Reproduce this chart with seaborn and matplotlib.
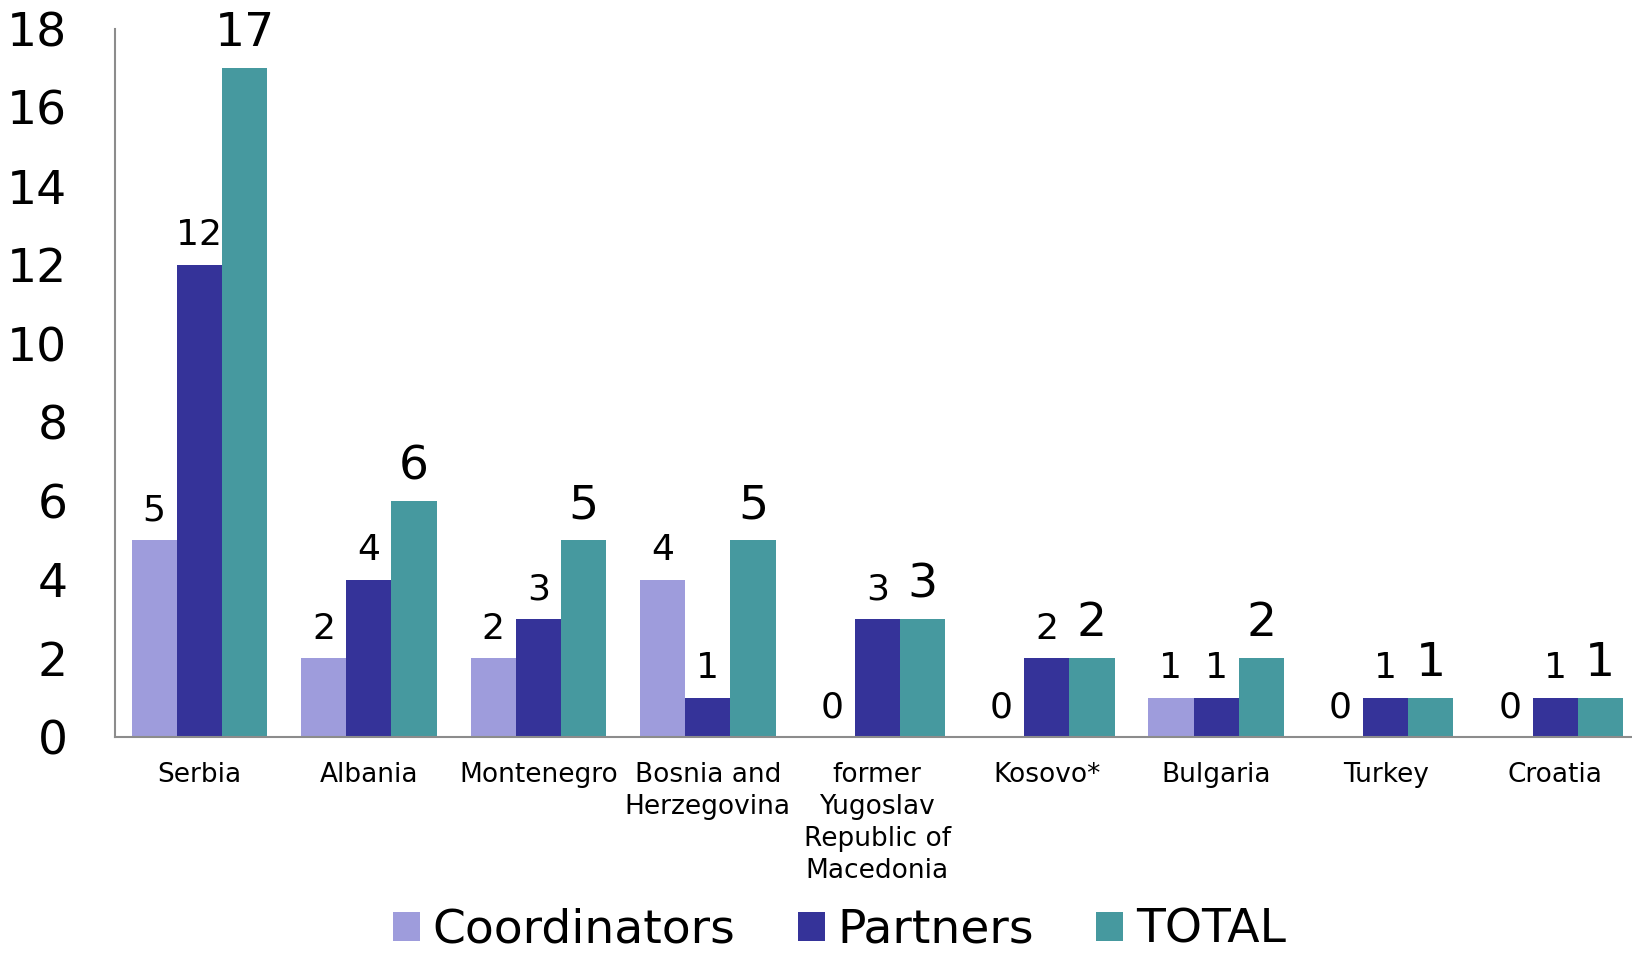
import matplotlib
matplotlib.use("Agg")
import matplotlib.pyplot as plt
import seaborn as sns
import pandas as pd
from matplotlib.patches import Patch

countries = ["Serbia", "Albania", "Montenegro", "Bosnia and\nHerzegovina",
             "former\nYugoslav\nRepublic of\nMacedonia", "Kosovo*", "Bulgaria",
             "Turkey", "Croatia"]
coordinators = [5, 2, 2, 4, 0, 0, 1, 0, 0]
partners = [12, 4, 3, 1, 3, 2, 1, 1, 1]
total = [17, 6, 5, 5, 3, 2, 2, 1, 1]
series = ["Coordinators", "Partners", "TOTAL"]
colors = ["#9E9CDC", "#353399", "#46999F"]
y_ticks = [0, 2, 4, 6, 8, 10, 12, 14, 16, 18]

df = pd.DataFrame({
    "country": countries * 3,
    "role": [series[0]] * 9 + [series[1]] * 9 + [series[2]] * 9,
    "count": coordinators + partners + total,
})

sns.set_theme(style="white")
plt.rcParams["font.family"] = ["DejaVu Sans"]
plt.rcParams["text.color"] = "black"

fig = plt.figure(figsize=(16.33, 9.6), dpi=100)
ax = fig.add_axes([0.0702, 0.2323, 0.9340, 0.7377])

sns.barplot(data=df, x="country", y="count", hue="role", order=countries,
            hue_order=series, palette=colors, saturation=1, width=0.8,
            edgecolor="none", linewidth=0, ax=ax, legend=False)

for cont, vals, size, pad in zip(ax.containers, [coordinators, partners, total],
                                 [26, 26, 34], [9, 9, 8.5]):
    ax.bar_label(cont, labels=[str(v) for v in vals], padding=pad,
                 fontsize=size, color="black")

ax.set_xlim(-0.5, 8.5)
ax.set_ylim(0, 18)
ax.set_yticks(y_ticks)
ax.set_yticklabels([str(t) for t in y_ticks], fontsize=34)
ax.tick_params(axis="y", length=0, pad=34, colors="black")
ax.tick_params(axis="x", length=0, pad=18, labelsize=19, colors="black")
for lbl in ax.get_xticklabels():
    lbl.set_linespacing(1.3)
ax.set_xlabel("")
ax.set_ylabel("")
for side in ["top", "right"]:
    ax.spines[side].set_visible(False)
for side in ["left", "bottom"]:
    ax.spines[side].set_color("#8C8C8C")
    ax.spines[side].set_linewidth(1.5)

handles = [Patch(facecolor=c, edgecolor="none") for c in colors]
fig.legend(handles, series, loc="center", bbox_to_anchor=(0.514, 0.031),
           ncol=3, frameon=False, fontsize=34, handlelength=0.57,
           handleheight=0.57, handletextpad=0.27, columnspacing=1.32,
           borderaxespad=0, borderpad=0, labelcolor="black")

fig.savefig("out.png", dpi=100)
